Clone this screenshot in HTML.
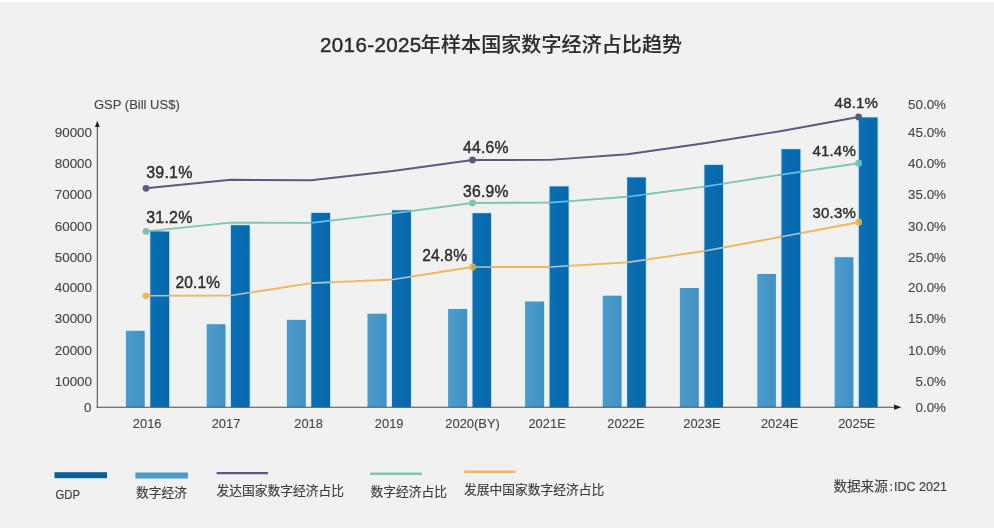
<!DOCTYPE html>
<html lang="zh-CN">
<head>
<meta charset="utf-8">
<title>2016-2025年样本国家数字经济占比趋势</title>
<style>
html,body{margin:0;padding:0;background:#ffffff;}
body{width:994px;height:530px;overflow:hidden;}
svg{display:block;}
text{font-family:"Liberation Sans","Noto Sans CJK SC",sans-serif;fill:#3a3a3a;}
.ax{font-size:13.4px;fill:#464646;stroke:#464646;stroke-width:0.12px;}
.lb{font-size:15.5px;fill:#2e2e2e;stroke:#2e2e2e;stroke-width:0.4px;letter-spacing:0.2px;}
.lg{font-size:12.75px;fill:#3e3e3e;stroke:#3e3e3e;stroke-width:0.15px;}
</style>
</head>
<body>
<svg width="994" height="530" viewBox="0 0 994 530">
<defs>
<linearGradient id="gd" x1="0" y1="0" x2="1" y2="0"><stop offset="0" stop-color="#0a6eb4"/><stop offset="1" stop-color="#0868ab"/></linearGradient>
<linearGradient id="gl" x1="0" y1="0" x2="1" y2="0"><stop offset="0" stop-color="#4b9ccd"/><stop offset="1" stop-color="#4291c2"/></linearGradient>
</defs>
<rect x="0" y="0" width="994" height="530" fill="#ffffff"/>
<rect x="0" y="2" width="994" height="526" fill="#f1f1f1"/>

<text x="320" y="52.2" font-size="20px" font-weight="500" style="fill:#2b2b2b;stroke:#2b2b2b;stroke-width:0.12px"><tspan font-size="20.5px" letter-spacing="0.4px" style="stroke-width:0.45px">2016-2025</tspan><tspan dx="-0.8" letter-spacing="0.1px">年样本国家数字经济占比趋势</tspan></text>
<text x="94" y="108.8" class="ax" style="font-size:13px">GSP (Bill US$)</text>
<clipPath id="cb"><rect x="150.3" y="231.5" width="18.9" height="175.7"/><rect x="230.9" y="225.2" width="18.8" height="182.0"/><rect x="311.3" y="212.9" width="18.8" height="194.3"/><rect x="392.0" y="210.3" width="18.9" height="196.9"/><rect x="472.5" y="213.2" width="18.6" height="194.0"/><rect x="549.6" y="186.4" width="19.0" height="220.8"/><rect x="627.2" y="177.4" width="18.6" height="229.8"/><rect x="704.4" y="164.9" width="18.6" height="242.3"/><rect x="781.5" y="149.2" width="18.9" height="258.0"/><rect x="858.8" y="117.4" width="18.8" height="289.8"/></clipPath>
<rect x="124.9" y="329.8" width="20.8" height="77.4" fill="#e2f3fa"/>
<rect x="149.1" y="230.3" width="21.3" height="176.9" fill="#d6eefa"/>
<rect x="205.7" y="323.2" width="20.8" height="84.0" fill="#e2f3fa"/>
<rect x="229.7" y="224.0" width="21.2" height="183.2" fill="#d6eefa"/>
<rect x="285.9" y="318.9" width="20.9" height="88.3" fill="#e2f3fa"/>
<rect x="310.1" y="211.7" width="21.2" height="195.5" fill="#d6eefa"/>
<rect x="366.5" y="312.7" width="21.1" height="94.5" fill="#e2f3fa"/>
<rect x="390.8" y="209.1" width="21.3" height="198.1" fill="#d6eefa"/>
<rect x="447.1" y="308.0" width="21.1" height="99.2" fill="#e2f3fa"/>
<rect x="471.3" y="212.0" width="21.0" height="195.2" fill="#d6eefa"/>
<rect x="524.1" y="300.5" width="21.0" height="106.7" fill="#e2f3fa"/>
<rect x="548.4" y="185.2" width="21.4" height="222.0" fill="#d6eefa"/>
<rect x="601.7" y="294.7" width="20.9" height="112.5" fill="#e2f3fa"/>
<rect x="626.0" y="176.2" width="21.0" height="231.0" fill="#d6eefa"/>
<rect x="678.9" y="287.0" width="20.9" height="120.2" fill="#e2f3fa"/>
<rect x="703.2" y="163.7" width="21.0" height="243.5" fill="#d6eefa"/>
<rect x="756.3" y="273.0" width="20.6" height="134.2" fill="#e2f3fa"/>
<rect x="780.3" y="148.0" width="21.3" height="259.2" fill="#d6eefa"/>
<rect x="833.6" y="256.2" width="20.8" height="151.0" fill="#e2f3fa"/>
<rect x="857.6" y="116.2" width="21.2" height="291.0" fill="#d6eefa"/>
<rect x="125.9" y="330.8" width="18.8" height="76.4" fill="url(#gl)"/>
<rect x="150.3" y="231.5" width="18.9" height="175.7" fill="url(#gd)"/>
<rect x="206.7" y="324.2" width="18.8" height="83.0" fill="url(#gl)"/>
<rect x="230.9" y="225.2" width="18.8" height="182.0" fill="url(#gd)"/>
<rect x="286.9" y="319.9" width="18.9" height="87.3" fill="url(#gl)"/>
<rect x="311.3" y="212.9" width="18.8" height="194.3" fill="url(#gd)"/>
<rect x="367.5" y="313.7" width="19.1" height="93.5" fill="url(#gl)"/>
<rect x="392.0" y="210.3" width="18.9" height="196.9" fill="url(#gd)"/>
<rect x="448.1" y="309.0" width="19.1" height="98.2" fill="url(#gl)"/>
<rect x="472.5" y="213.2" width="18.6" height="194.0" fill="url(#gd)"/>
<rect x="525.1" y="301.5" width="19.0" height="105.7" fill="url(#gl)"/>
<rect x="549.6" y="186.4" width="19.0" height="220.8" fill="url(#gd)"/>
<rect x="602.7" y="295.7" width="18.9" height="111.5" fill="url(#gl)"/>
<rect x="627.2" y="177.4" width="18.6" height="229.8" fill="url(#gd)"/>
<rect x="679.9" y="288.0" width="18.9" height="119.2" fill="url(#gl)"/>
<rect x="704.4" y="164.9" width="18.6" height="242.3" fill="url(#gd)"/>
<rect x="757.3" y="274.0" width="18.6" height="133.2" fill="url(#gl)"/>
<rect x="781.5" y="149.2" width="18.9" height="258.0" fill="url(#gd)"/>
<rect x="834.6" y="257.2" width="18.8" height="150.0" fill="url(#gl)"/>
<rect x="858.8" y="117.4" width="18.8" height="289.8" fill="url(#gd)"/>
<line x1="97.3" y1="125" x2="97.3" y2="407.8" stroke="#4a4a4a" stroke-width="1"/>
<polygon points="97.3,120.8 94.9,127 99.7,127" fill="#222"/>
<line x1="96.7" y1="407.2" x2="895" y2="407.2" stroke="#4c4c4c" stroke-width="1.1"/>
<polygon points="901.5,407.2 894,404.6 894,409.8" fill="#222"/>
<text x="92" y="137.3" class="ax" text-anchor="end">90000</text>
<text x="92" y="168.4" class="ax" text-anchor="end">80000</text>
<text x="92" y="199.4" class="ax" text-anchor="end">70000</text>
<text x="92" y="230.5" class="ax" text-anchor="end">60000</text>
<text x="92" y="261.5" class="ax" text-anchor="end">50000</text>
<text x="92" y="292.1" class="ax" text-anchor="end">40000</text>
<text x="92" y="323.2" class="ax" text-anchor="end">30000</text>
<text x="92" y="354.8" class="ax" text-anchor="end">20000</text>
<text x="92" y="386.0" class="ax" text-anchor="end">10000</text>
<text x="91.5" y="411.6" class="ax" text-anchor="end">0</text>
<text x="946" y="108.7" class="ax" text-anchor="end">50.0%</text>
<text x="946" y="137.3" class="ax" text-anchor="end">45.0%</text>
<text x="946" y="168.4" class="ax" text-anchor="end">40.0%</text>
<text x="946" y="199.4" class="ax" text-anchor="end">35.0%</text>
<text x="946" y="230.5" class="ax" text-anchor="end">30.0%</text>
<text x="946" y="261.5" class="ax" text-anchor="end">25.0%</text>
<text x="946" y="292.1" class="ax" text-anchor="end">20.0%</text>
<text x="946" y="323.2" class="ax" text-anchor="end">15.0%</text>
<text x="946" y="354.8" class="ax" text-anchor="end">10.0%</text>
<text x="946" y="386.0" class="ax" text-anchor="end">5.0%</text>
<text x="946" y="411.5" class="ax" text-anchor="end">0.0%</text>
<text x="147.2" y="428.2" class="ax" style="font-size:12.9px" text-anchor="middle">2016</text>
<text x="226.0" y="428.2" class="ax" style="font-size:12.9px" text-anchor="middle">2017</text>
<text x="308.6" y="428.2" class="ax" style="font-size:12.9px" text-anchor="middle">2018</text>
<text x="389.2" y="428.2" class="ax" style="font-size:12.9px" text-anchor="middle">2019</text>
<text x="472.6" y="428.2" class="ax" style="font-size:12.9px" text-anchor="middle">2020(BY)</text>
<text x="547.1" y="428.2" class="ax" style="font-size:12.9px" text-anchor="middle">2021E</text>
<text x="626.0" y="428.2" class="ax" style="font-size:12.9px" text-anchor="middle">2022E</text>
<text x="701.9" y="428.2" class="ax" style="font-size:12.9px" text-anchor="middle">2023E</text>
<text x="779.6" y="428.2" class="ax" style="font-size:12.9px" text-anchor="middle">2024E</text>
<text x="856.8" y="428.2" class="ax" style="font-size:12.9px" text-anchor="middle">2025E</text>
<polyline points="146.0,188.3 230.8,179.8 311.3,180.3 392.8,171.0 472.5,160.0 549.7,159.9 627.5,154.2 704.4,143.3 781.5,131.0 858.6,117.0" fill="none" stroke="#5d5883" stroke-width="1.9" stroke-linejoin="round" stroke-linecap="round"/>
<circle cx="146.0" cy="188.3" r="3.4" fill="#5d5883"/>
<circle cx="472.5" cy="160.0" r="3.4" fill="#5d5883"/>
<circle cx="858.6" cy="117.0" r="3.4" fill="#5d5883"/>
<g clip-path="url(#cb)">
<polyline points="146.0,188.3 230.8,179.8 311.3,180.3 392.8,171.0 472.5,160.0 549.7,159.9 627.5,154.2 704.4,143.3 781.5,131.0 858.6,117.0" fill="none" stroke="#0a6cb0" stroke-width="2.9"/>
<polyline points="146.0,188.3 230.8,179.8 311.3,180.3 392.8,171.0 472.5,160.0 549.7,159.9 627.5,154.2 704.4,143.3 781.5,131.0 858.6,117.0" fill="none" stroke="#6a6aa0" stroke-width="1.6"/>
<circle cx="472.5" cy="160.0" r="3.4" fill="#4a5a98"/>
<circle cx="858.6" cy="117.0" r="3.4" fill="#4a5a98"/>
</g>
<polyline points="146.0,231.4 230.8,222.6 311.3,222.9 392.8,213.4 472.5,203.0 549.7,202.6 627.5,196.8 704.4,186.6 781.5,174.6 858.6,163.2" fill="none" stroke="#7fc4b4" stroke-width="1.9" stroke-linejoin="round" stroke-linecap="round"/>
<circle cx="146.0" cy="231.4" r="3.4" fill="#7fc4b4"/>
<circle cx="472.5" cy="203.0" r="3.4" fill="#7fc4b4"/>
<circle cx="858.6" cy="163.2" r="3.4" fill="#7fc4b4"/>
<g clip-path="url(#cb)">
<polyline points="146.0,231.4 230.8,222.6 311.3,222.9 392.8,213.4 472.5,203.0 549.7,202.6 627.5,196.8 704.4,186.6 781.5,174.6 858.6,163.2" fill="none" stroke="#0a6cb0" stroke-width="2.9"/>
<polyline points="146.0,231.4 230.8,222.6 311.3,222.9 392.8,213.4 472.5,203.0 549.7,202.6 627.5,196.8 704.4,186.6 781.5,174.6 858.6,163.2" fill="none" stroke="#62c2e8" stroke-width="1.6"/>
<circle cx="472.5" cy="203.0" r="3.4" fill="#55b8e0"/>
<circle cx="858.6" cy="163.2" r="3.4" fill="#55b8e0"/>
</g>
<polyline points="146.0,295.8 230.8,295.5 311.3,283.1 392.8,279.5 472.5,267.0 549.7,267.0 627.5,262.4 704.4,251.0 781.5,236.8 858.6,222.2" fill="none" stroke="#f1b75c" stroke-width="1.9" stroke-linejoin="round" stroke-linecap="round"/>
<circle cx="146.0" cy="295.8" r="3.4" fill="#f1b75c"/>
<circle cx="472.5" cy="267.0" r="3.4" fill="#f1b75c"/>
<circle cx="858.6" cy="222.2" r="3.4" fill="#f1b75c"/>
<g clip-path="url(#cb)">
<polyline points="146.0,295.8 230.8,295.5 311.3,283.1 392.8,279.5 472.5,267.0 549.7,267.0 627.5,262.4 704.4,251.0 781.5,236.8 858.6,222.2" fill="none" stroke="#0a6cb0" stroke-width="2.9"/>
<polyline points="146.0,295.8 230.8,295.5 311.3,283.1 392.8,279.5 472.5,267.0 549.7,267.0 627.5,262.4 704.4,251.0 781.5,236.8 858.6,222.2" fill="none" stroke="#a9c6d2" stroke-width="1.6"/>
<circle cx="472.5" cy="267.0" r="3.4" fill="#c8ae58"/>
<circle cx="858.6" cy="222.2" r="3.4" fill="#c8ae58"/>
</g>
<text transform="translate(146.2 178.3) scale(1 1.03)" class="lb" style="font-size:16px">39.1%</text>
<text transform="translate(146.2 222.5) scale(1 1.03)" class="lb" style="font-size:16px">31.2%</text>
<text transform="translate(175.4 288.1) scale(1 1.03)" class="lb" style="font-size:15.5px">20.1%</text>
<text transform="translate(463.1 153.1) scale(1 1.03)" class="lb" style="font-size:15.7px">44.6%</text>
<text transform="translate(463.1 196.5) scale(1 1.03)" class="lb" style="font-size:15.7px">36.9%</text>
<text transform="translate(422.2 260.6) scale(1 1.03)" class="lb" style="font-size:15.5px">24.8%</text>
<text transform="translate(834.6 108.4) scale(1 1.03)" class="lb" style="font-size:15px">48.1%</text>
<text transform="translate(812.4 155.8) scale(1 1.03)" class="lb" style="font-size:15px">41.4%</text>
<text transform="translate(812.5 217.9) scale(1 1.03)" class="lb" style="font-size:15px">30.3%</text>
<rect x="54.5" y="472.2" width="52.5" height="6" fill="#0a5f96"/>
<rect x="135.4" y="472.5" width="52.5" height="6" fill="#4a9cc4"/>
<line x1="216.6" y1="473.1" x2="268" y2="473.1" stroke="#5d5883" stroke-width="2.4"/>
<line x1="370" y1="473.7" x2="421.9" y2="473.7" stroke="#7fc4b4" stroke-width="2.4"/>
<line x1="464.1" y1="471.8" x2="515.5" y2="471.8" stroke="#f1b75c" stroke-width="2.4"/>
<text x="55.5" y="499.4" class="lg" textLength="24.5" lengthAdjust="spacingAndGlyphs" style="font-size:13px">GDP</text>
<text x="136" y="497.1" class="lg">数字经济</text>
<text x="216.6" y="494.9" class="lg">发达国家数字经济占比</text>
<text x="370.5" y="495.6" class="lg">数字经济占比</text>
<text x="464.1" y="494.3" class="lg">发展中国家数字经济占比</text>
<text x="833.4" y="490.5" class="lg" style="font-size:13.6px">数据来源<tspan x="889.6" style="font-size:13px">:</tspan><tspan x="894.1" style="font-size:12.5px">IDC 2021</tspan></text>
</svg>
</body>
</html>
